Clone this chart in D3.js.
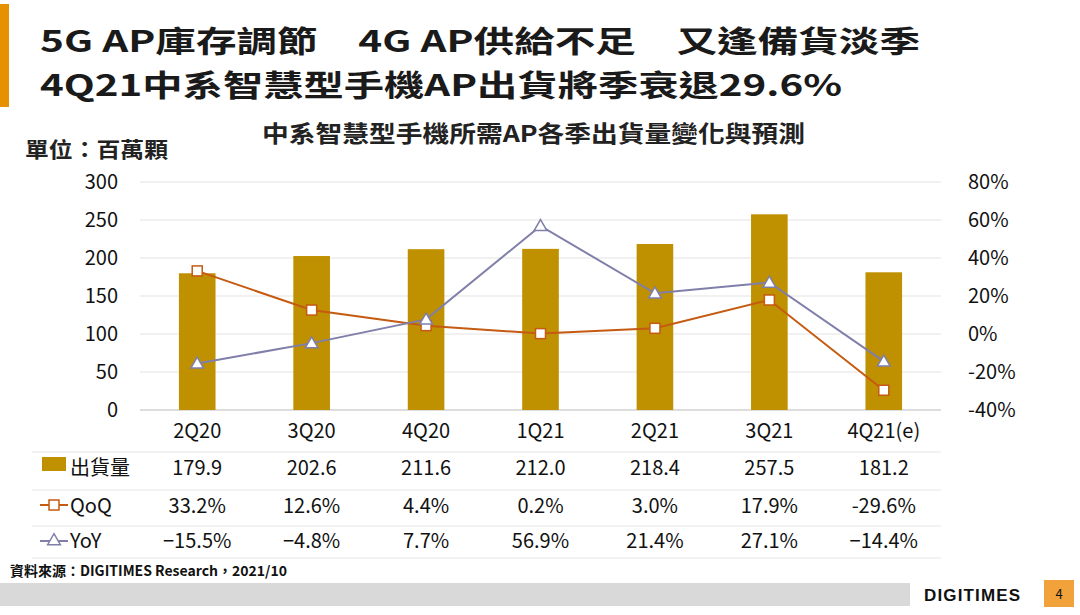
<!DOCTYPE html><html><head><meta charset="utf-8"><script src="https://cdn.jsdelivr.net/npm/d3@7"></script>
<style>body{margin:0;background:#fff}text{font-family:"Noto Sans CJK TC","Noto Sans",sans-serif}</style></head><body>
<svg id="c" width="1080" height="615"></svg>
<script>
const categories=["2Q20","3Q20","4Q20","1Q21","2Q21","3Q21","4Q21(e)"];
const shipments=[179.9,202.6,211.6,212.0,218.4,257.5,181.2];
const qoq=[33.2,12.6,4.4,0.2,3.0,17.9,-29.6];
const yoy=[-15.5,-4.8,7.7,56.9,21.4,27.1,-14.4];
const leftTicks=[0,50,100,150,200,250,300];
const rightTicks=[-40,-20,0,20,40,60,80];
const svg=d3.select("#c");
const x=d3.scaleBand().domain(categories).range([140,941]).paddingInner(0.68).paddingOuter(0.34);
const yL=d3.scaleLinear().domain([0,300]).range([410,182]);
const yR=d3.scaleLinear().domain([-40,80]).range([410,182]);
const cx=c=>x(c)+x.bandwidth()/2;
const gold="#BF9000",orange="#C55A11",purple="#7F7FAA";
svg.append("rect").attr("x",0).attr("y",4).attr("width",9).attr("height",103).attr("fill","#E69100");
svg.append("text").attr("x",40).attr("y",52).attr("font-size",30).attr("font-weight","bold").attr("fill","#1a1a1a").attr("textLength",880).attr("lengthAdjust","spacingAndGlyphs").text("5G AP庫存調節　4G AP供給不足　又逢備貨淡季");
svg.append("text").attr("x",40).attr("y",96).attr("font-size",30).attr("font-weight","bold").attr("fill","#1a1a1a").attr("textLength",802).attr("lengthAdjust","spacingAndGlyphs").text("4Q21中系智慧型手機AP出貨將季衰退29.6%");
svg.append("text").attr("x",262).attr("y",142).attr("font-size",23).attr("font-weight","bold").attr("fill","#222").attr("textLength",543).attr("lengthAdjust","spacingAndGlyphs").text("中系智慧型手機所需AP各季出貨量變化與預測");
svg.append("text").attr("x",25).attr("y",157).attr("font-size",21).attr("font-weight","bold").attr("fill","#222").attr("textLength",143).attr("lengthAdjust","spacingAndGlyphs").text("單位：百萬顆");
svg.append("g").selectAll("line").data(leftTicks).join("line").attr("x1",140).attr("x2",941).attr("y1",d=>yL(d)).attr("y2",d=>yL(d)).attr("stroke",d=>d===0?"#bbb":"#e3e3e3");
const yl=svg.append("g").attr("transform","translate(118,0)").call(d3.axisLeft(yL).tickValues(leftTicks).tickSize(0).tickPadding(0));
yl.select(".domain").remove();yl.selectAll("text").attr("font-size",20).attr("fill","#111").style("font-family","Noto Sans CJK TC");
const yr=svg.append("g").attr("transform","translate(968,0)").call(d3.axisRight(yR).tickValues(rightTicks).tickFormat(d=>d+"%").tickSize(0).tickPadding(0));
yr.select(".domain").remove();yr.selectAll("text").attr("font-size",20).attr("fill","#111").style("font-family","Noto Sans CJK TC");
svg.append("g").selectAll("rect").data(shipments).join("rect").attr("x",(d,i)=>x(categories[i])).attr("width",x.bandwidth()).attr("y",d=>yL(d)).attr("height",d=>410-yL(d)).attr("fill",gold);
const ln=d3.line().x((d,i)=>cx(categories[i])).y(d=>yR(d));
svg.append("path").datum(qoq).attr("d",ln).attr("fill","none").attr("stroke",orange).attr("stroke-width",2);
svg.append("path").datum(yoy).attr("d",ln).attr("fill","none").attr("stroke",purple).attr("stroke-width",2);
svg.append("g").selectAll("rect").data(qoq).join("rect").attr("x",(d,i)=>cx(categories[i])-5).attr("y",d=>yR(d)-5).attr("width",10).attr("height",10).attr("fill","#fff").attr("stroke",orange).attr("stroke-width",1.5);
const tri=d3.symbol().type(d3.symbolTriangle).size(70);
svg.append("g").selectAll("path").data(yoy).join("path").attr("d",tri).attr("transform",(d,i)=>`translate(${cx(categories[i])},${yR(d)+1})`).attr("fill","#fff").attr("stroke",purple).attr("stroke-width",1.5);
const fs=20;
svg.append("g").selectAll("text").data(categories).join("text").attr("x",c=>cx(c)).attr("y",438).attr("text-anchor","middle").attr("font-size",fs).attr("fill","#111").text(c=>c);
const rows=[{vals:shipments.map(d=>d.toFixed(1)),y:475,label:"出貨量"},{vals:qoq.map(d=>d.toFixed(1)+"%"),y:513,label:"QoQ"},{vals:yoy.map(d=>(d<0?"−":"")+Math.abs(d).toFixed(1)+"%"),y:548,label:"YoY"}];
rows.forEach(r=>{
  svg.append("g").selectAll("text").data(r.vals).join("text").attr("x",(d,i)=>cx(categories[i])).attr("y",r.y).attr("text-anchor","middle").attr("font-size",fs).attr("fill","#111").text(d=>d);
  svg.append("text").attr("x",70).attr("y",r.y).attr("font-size",fs).attr("fill","#111").text(r.label);
});
svg.append("rect").attr("x",42).attr("y",457).attr("width",24).attr("height",14).attr("fill",gold);
svg.append("line").attr("x1",40).attr("x2",68).attr("y1",505).attr("y2",505).attr("stroke",orange).attr("stroke-width",2);
svg.append("rect").attr("x",49).attr("y",500).attr("width",10).attr("height",10).attr("fill","#fff").attr("stroke",orange).attr("stroke-width",1.5);
svg.append("line").attr("x1",40).attr("x2",68).attr("y1",541).attr("y2",541).attr("stroke",purple).attr("stroke-width",2);
svg.append("path").attr("d",tri).attr("transform","translate(54,541)").attr("fill","#fff").attr("stroke",purple).attr("stroke-width",1.5);
[452,490,526,558].forEach(y=>svg.append("line").attr("x1",32).attr("x2",941).attr("y1",y).attr("y2",y).attr("stroke","#e6e6e6"));
svg.append("text").attr("x",10).attr("y",576).attr("font-size",14).attr("font-weight","bold").attr("fill","#111").text("資料來源：DIGITIMES Research，2021/10");
svg.append("rect").attr("x",0).attr("y",583).attr("width",910).attr("height",23).attr("fill","#d9d9d9");
svg.append("text").attr("x",924).attr("y",601).attr("font-size",17).attr("font-weight","900").attr("fill","#111").style("font-family","Liberation Sans").attr("textLength",96).text("DIGITIMES");
svg.append("rect").attr("x",1044).attr("y",580).attr("width",30).attr("height",27).attr("fill","#F2A23A");
svg.append("text").attr("x",1059).attr("y",599).attr("text-anchor","middle").attr("font-size",13).attr("fill","#111").text("4");
</script></body></html>
